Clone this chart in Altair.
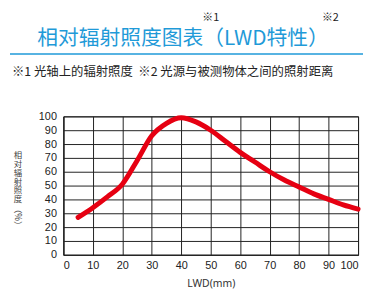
import altair as alt
import pandas as pd

lwd = [5, 10, 15, 20, 25, 30, 35, 40, 45, 50, 55, 60, 65, 70, 75, 80, 85, 90, 95, 100]
irr = [27, 34, 42, 51, 68, 86, 95, 99, 96, 90, 82, 74, 67, 60, 54, 49, 44, 40, 36, 33]
ticks = list(range(0, 101, 10))

title_text = "相对辐射照度图表（LWD特性）"
note_text = "※1 光轴上的辐射照度\u00a0\u00a0※2 光源与被测物体之间的照射距离"
ytitle_chars = ["相", "对", "辐", "射", "照", "度"]
ytitle_unit = "（%）"
xtitle_text = "LWD(mm)"

df = pd.DataFrame({"lwd": lwd, "irr": irr})

CJK = "Noto Sans CJK SC"
NUM = "Liberation Sans"
BLUE = "#1f9ad8"

base = alt.Chart(df)

line = base.mark_line(color="#e60012", strokeWidth=5, interpolate="monotone",
                      strokeCap="round", strokeJoin="round").encode(
    x=alt.X("lwd:Q", scale=alt.Scale(domain=[0, 100], nice=False),
            axis=alt.Axis(values=ticks, title=xtitle_text, grid=True, gridColor="#222",
                          gridOpacity=1, gridWidth=1, domainColor="#222", ticks=False,
                          labelFont=NUM, labelFontSize=11, labelColor="#222", labelPadding=5,
                          titleFont="Noto Sans", titleFontSize=10.5, titleFontWeight="normal",
                          titleColor="#333", titlePadding=8)),
    y=alt.Y("irr:Q", scale=alt.Scale(domain=[0, 100], nice=False),
            axis=alt.Axis(values=ticks, title=None, grid=True, gridColor="#222",
                          gridOpacity=1, gridWidth=1, domainColor="#222", ticks=False,
                          labelFont=NUM, labelFontSize=11, labelColor="#222", labelPadding=7)),
)

ann = alt.Chart(pd.DataFrame({"a": [0]}))

layers = [line]
layers.append(ann.mark_text(text=title_text, font=CJK, fontSize=21, color=BLUE,
                            align="center", baseline="middle").encode(
    x=alt.value(121), y=alt.value(-78)))
layers.append(ann.mark_text(text="※1", font=CJK, fontSize=11, color="#222",
                            align="center", baseline="middle").encode(
    x=alt.value(149), y=alt.value(-99)))
layers.append(ann.mark_text(text="※2", font=CJK, fontSize=11, color="#222",
                            align="center", baseline="middle").encode(
    x=alt.value(270), y=alt.value(-99)))
layers.append(ann.mark_rule(color=BLUE, strokeWidth=1.5).encode(
    x=alt.value(-54), x2=alt.value(306), y=alt.value(-63)))
layers.append(ann.mark_text(text=note_text, font=CJK, fontSize=12.5, color="#222",
                            align="left", baseline="middle").encode(
    x=alt.value(-52), y=alt.value(-45)))
for i, ch in enumerate(ytitle_chars):
    layers.append(ann.mark_text(text=ch, font=CJK, fontSize=8.5, color="#444",
                                align="center", baseline="middle").encode(
        x=alt.value(-46), y=alt.value(39 + 9 * i)))
layers.append(ann.mark_text(text=ytitle_unit, angle=90, font=CJK, fontSize=8.5, color="#444",
                            align="center", baseline="middle").encode(
    x=alt.value(-46), y=alt.value(102)))

chart = alt.layer(*layers).properties(
    width=298, height=140,
    padding={"left": 56, "top": 108, "right": 5, "bottom": 33},
    autosize=alt.AutoSizeParams(type="none"),
).configure_view(stroke="#222", strokeWidth=1)

chart.save("out.html", embed_options={"renderer": "svg", "actions": False})
